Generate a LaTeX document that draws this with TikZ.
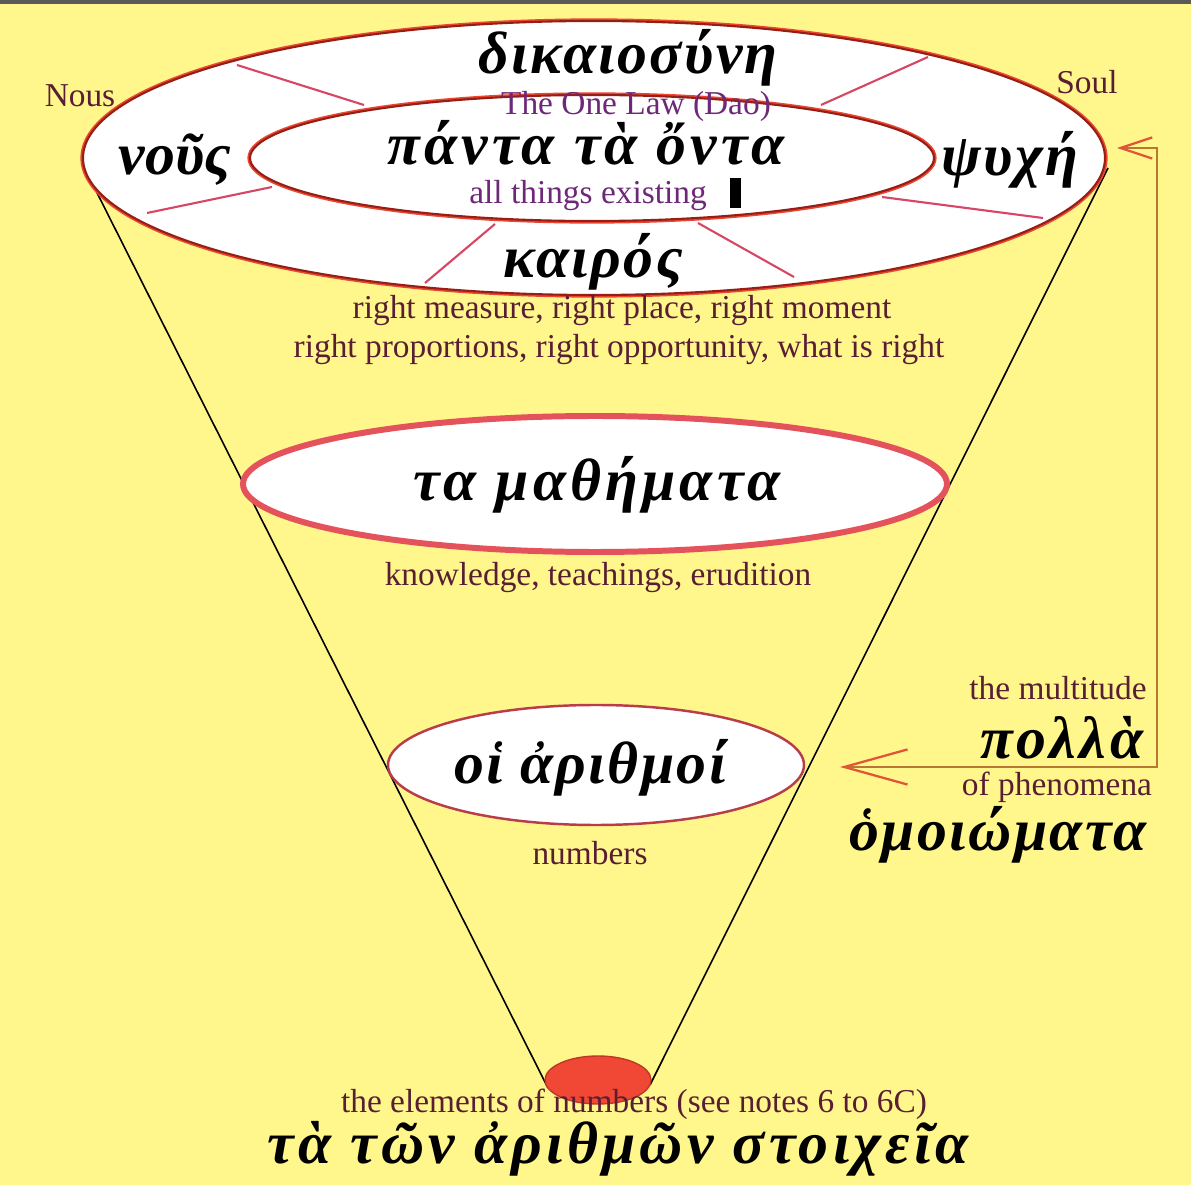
\documentclass[tikz,border=0pt]{standalone}
\usepackage{fontspec}
\setmainfont{Liberation Serif}
\newfontfamily\greekfont{Liberation Serif}
\newcommand\greekspaced[1]{\greekfont\bfseries\itshape\fontsize{34}{38}\selectfont\addfontfeature{LetterSpace=#1}}
\usetikzlibrary{arrows.meta}

\definecolor{bgyellow}{RGB}{255,247,140}
\definecolor{ringdark}{RGB}{150,30,20}
\definecolor{ringglow}{RGB}{235,70,50}
\definecolor{spoke}{RGB}{215,70,100}
\definecolor{mathred}{RGB}{228,82,92}
\definecolor{arithred}{RGB}{185,60,75}
\definecolor{seedred}{RGB}{240,72,52}
\definecolor{maroon}{RGB}{90,30,50}
\definecolor{plum}{RGB}{110,40,120}
\definecolor{bracket}{RGB}{185,120,50}
\definecolor{tipred}{RGB}{225,85,55}

\tikzset{
  eng/.style={text=maroon, font=\fontsize{19}{22}\selectfont, inner sep=0pt},
  law/.style={eng, text=plum},
  grk/.style={font=\greekspaced{4}, inner sep=0pt},
  widegrk/.style={font=\greekspaced{7}, inner sep=0pt},
  ring/.style={draw=ringdark, line width=1.2pt, fill=white, preaction={draw=ringglow, line width=3pt}},
}

\begin{document}
\begin{tikzpicture}[x=0.02cm, y=-0.02cm]
\useasboundingbox (0,0) rectangle (1191,1185);
\fill[bgyellow] (0,0) rectangle (1191,1185);
\fill[black!65] (0,0) rectangle (1191,4);
%----------------- cone -----------------
\draw[line width=0.9pt] (83,165) -- (548,1088);
\draw[line width=0.9pt] (1108,168) -- (650,1085);
%----------------- top ring -----------------
\draw[ring] (594,158) ellipse [x radius=511, y radius=137];
% spokes between the two ellipses
\draw[spoke, line width=1.2pt] (237,65) -- (364,105);
\draw[spoke, line width=1.2pt] (147,213) -- (272,187);
\draw[spoke, line width=1.2pt] (425,283) -- (495,224);
\draw[spoke, line width=1.2pt] (698,223) -- (794,277);
\draw[spoke, line width=1.2pt] (882,197) -- (1043,218);
\draw[spoke, line width=1.2pt] (821,105) -- (928,57);
\draw[ring] (592,158) ellipse [x radius=342, y radius=63];
%----------------- lower ellipses -----------------
\draw[draw=mathred, line width=3.4pt, fill=white] (595,484) ellipse [x radius=352, y radius=68];
\draw[draw=arithred, line width=1.4pt, fill=white] (596,765) ellipse [x radius=208, y radius=60];
\draw[draw=ringglow!80!black, line width=0.8pt, fill=seedred] (598,1080) ellipse [x radius=53, y radius=24];
%----------------- labels -----------------
\node[grk] (dikaio) at (628,58) {δικαιοσύνη};
\node[law] (onelaw) at (636,106) {The One Law (Dao)};
\node[widegrk, text depth=0pt, anchor=base] (onta) at (586,165) {πάντα τὰ ὄντα};
\node[law, anchor=base] (allthings) at (588,204) {all things existing};
\fill (730,178) rectangle (741,208);
\node[font=\greekspaced{0}, inner sep=0pt] (nous) at (175,160) {νοῦς};
\node[grk] (psyche) at (1010,160) {ψυχή};
\node[grk] (kairos) at (593,262) {καιρός};
\node[eng] (nouslbl) at (80,96) {Nous};
\node[eng] (soullbl) at (1087,82) {Soul};
\node[eng] (measure) at (622,311) {right measure, right place, right moment};
\node[eng] (proport) at (619,350) {right proportions, right opportunity, what is right};
\node[widegrk] (mathemata) at (597,485) {τα μαθήματα};
\node[eng] (knowl) at (598,578) {knowledge, teachings, erudition};
\node[grk] (arithmoi) at (590,768) {οἱ ἀριθμοί};
\node[eng] (numbers) at (590,853) {numbers};
\node[eng] (multi) at (1058,688) {the multitude};
\node[widegrk] (polla) at (1062,738) {πολλὰ};
\node[eng] (phenom) at (1057,787) {of phenomena};
\node[grk] (homoio) at (998,835) {ὁμοιώματα};
\node[eng] (elements) at (634,1104) {the elements of numbers (see notes 6 to 6C)};
\node[widegrk] (stoicheia) at (618,1149) {τὰ τῶν ἀριθμῶν στοιχεῖα};
%----------------- return arrow -----------------
\coordinate (psytip) at (1117,148);
\coordinate (arithtip) at (840,767);
\coordinate (corner) at (1157,767);
\draw[bracket, line width=1.3pt,
  {Straight Barb[length=18pt, width=12pt, color=tipred]}-{Straight Barb[length=36pt, width=20pt, color=tipred]}]
  (psytip) -| (corner) -- (arithtip);
\end{tikzpicture}
\end{document}
